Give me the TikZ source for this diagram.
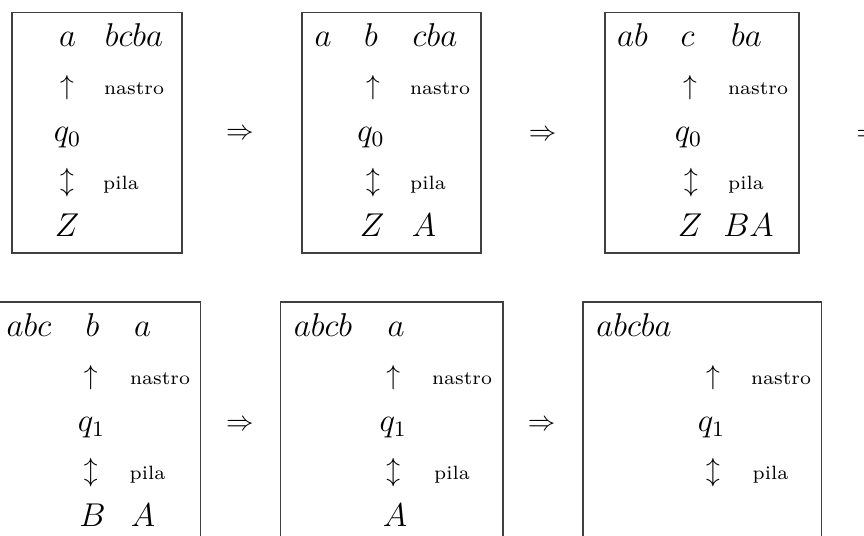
\documentclass[tikz,border=0pt]{standalone}
\tikzset{
  sym/.style={anchor=base, inner sep=0pt, outer sep=0pt},
  letr/.style={anchor=base, inner sep=0pt, outer sep=0pt, font=\large},
  lbl/.style={anchor=base, inner sep=0pt, outer sep=0pt, font=\scriptsize},
  cfgbox/.style={draw=black!75, line width=0.45pt},
  impl/.style={anchor=center, inner sep=0pt}
}
\begin{document}
\begin{tikzpicture}[x=0.3636pt, y=-0.3636pt]
\useasboundingbox (0,0) rectangle (864,536);
\clip (0,0) rectangle (864,536);
% ---------- top row ----------
% box 1
\draw[cfgbox] (12,12.3) rectangle (182,253);
\node[letr] (b1c) at (67.5,47) {$a$};
\node[letr] (b1r) at (134,47) {$bcba$};
\node[sym] (b1up) at (67,94.5) {$\uparrow$};
\node[lbl] (b1n) at (134,94.5) {nastro};
\node[letr] (b1q) at (67.5,142) {$q_0$};
\node[sym] (b1ud) at (67,189.5) {$\updownarrow$};
\node[lbl] (b1p) at (121,189.5) {pila};
\node[letr] (b1s) at (67,237) {$Z$};
\node[impl] (i1) at (240,134) {$\Rightarrow$};
% box 2
\draw[cfgbox] (302,12.3) rectangle (481,253);
\node[letr] (b2l) at (323,47) {$a$};
\node[letr] (b2c) at (371,47) {$b$};
\node[letr] (b2r) at (435,47) {$cba$};
\node[sym] (b2up) at (373,94.5) {$\uparrow$};
\node[lbl] (b2n) at (440,94.5) {nastro};
\node[letr] (b2q) at (371,142) {$q_0$};
\node[sym] (b2ud) at (373,189.5) {$\updownarrow$};
\node[lbl] (b2p) at (428,189.5) {pila};
\node[letr] (b2s) at (372,237) {$Z$};
\node[letr] (b2t) at (424,237) {$A$};
\node[impl] (i2) at (542.5,135) {$\Rightarrow$};
% box 3
\draw[cfgbox] (605,12.3) rectangle (799,253);
\node[letr] (b3l) at (632.5,47) {$ab$};
\node[letr] (b3c) at (687.5,47) {$c$};
\node[letr] (b3r) at (746.5,47) {$ba$};
\node[sym] (b3up) at (690,94.5) {$\uparrow$};
\node[lbl] (b3n) at (758,94.5) {nastro};
\node[letr] (b3q) at (688.5,142) {$q_0$};
\node[sym] (b3ud) at (691,189.5) {$\updownarrow$};
\node[lbl] (b3p) at (746,189.5) {pila};
\node[letr] (b3s) at (690,237) {$Z$};
\node[letr] (b3t) at (748.5,237) {$BA$};
\node[impl] (i3) at (870,135) {$\Rightarrow$};
% ---------- bottom row ----------
% box 4
\draw[cfgbox] (-30,302) rectangle (200.3,543);
\node[letr] (b4l) at (29,337) {$abc$};
\node[letr] (b4c) at (92.5,337) {$b$};
\node[letr] (b4r) at (142.5,337) {$a$};
\node[sym] (b4up) at (90.7,384.5) {$\uparrow$};
\node[lbl] (b4n) at (160,384.5) {nastro};
\node[letr] (b4q) at (91.5,432) {$q_1$};
\node[sym] (b4ud) at (90.7,479.5) {$\updownarrow$};
\node[lbl] (b4p) at (147.5,479.5) {pila};
\node[letr] (b4s) at (92.5,527) {$B$};
\node[letr] (b4t) at (143,527) {$A$};
\node[impl] (i4) at (240,425) {$\Rightarrow$};
% box 5
\draw[cfgbox] (280.3,302) rectangle (503,543);
\node[letr] (b5l) at (323,337) {$abcb$};
\node[letr] (b5c) at (396,337) {$a$};
\node[sym] (b5up) at (393.3,384.5) {$\uparrow$};
\node[lbl] (b5n) at (462,384.5) {nastro};
\node[letr] (b5q) at (393.3,432) {$q_1$};
\node[sym] (b5ud) at (393.3,479.5) {$\updownarrow$};
\node[lbl] (b5p) at (452,479.5) {pila};
\node[letr] (b5s) at (395,527) {$A$};
\node[impl] (i5) at (541.5,425) {$\Rightarrow$};
% box 6
\draw[cfgbox] (583,302) rectangle (821.3,543);
\node[letr] (b6l) at (634,337) {$abcba$};
\node[sym] (b6up) at (713,384.5) {$\uparrow$};
\node[lbl] (b6n) at (781,384.5) {nastro};
\node[letr] (b6q) at (711.5,432) {$q_1$};
\node[sym] (b6ud) at (713,479.5) {$\updownarrow$};
\node[lbl] (b6p) at (770.5,479.5) {pila};
\end{tikzpicture}
\end{document}
